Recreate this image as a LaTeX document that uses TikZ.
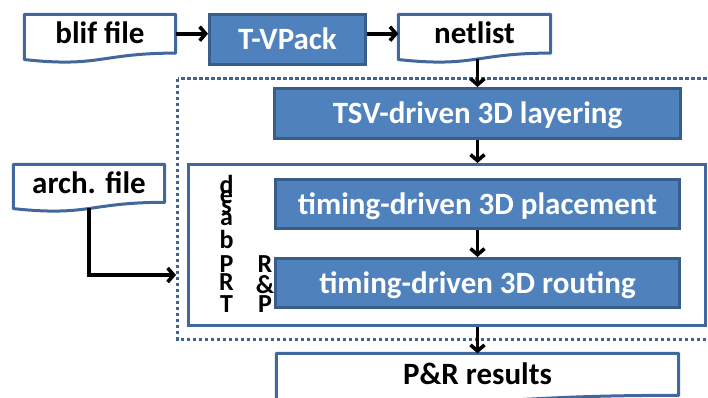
\documentclass[tikz,border=0pt]{standalone}
\usepackage{fontspec}
\setmainfont{Carlito}
\usetikzlibrary{calc,arrows.meta}
\definecolor{boxfill}{HTML}{4F81BD}
\definecolor{boxline}{HTML}{385D8A}
\definecolor{docline}{HTML}{41679C}
\definecolor{dotline}{HTML}{3F6293}
\newcommand\docwave[2]{% node name, full height H
  \draw[docstyle] (#1.south east) -- (#1.north east) -- (#1.north west)
    -- ($(#1.south west)+(0,0.134*#2)$)
    .. controls ($(#1.south)+(0,0.307*#2)$) and (#1.south) .. (#1.south east) -- cycle;}
\begin{document}
\begin{tikzpicture}[x=1pt,y=-1pt,
  bluebox/.style={draw=boxline,fill=boxfill,line width=3pt,inner sep=0pt,rectangle,
    text=white,font=\fontsize{31}{31}\selectfont\bfseries,text height=20pt,text depth=0pt},
  docnode/.style={inner sep=0pt,rectangle,text=black,
    font=\fontsize{31}{31}\selectfont\bfseries,text height=20pt,text depth=0pt},
  docstyle/.style={draw=docline,fill=white,line width=3pt,line join=round},
  whitebox/.style={draw=docline,fill=white,line width=3pt,inner sep=0pt,rectangle},
  vletter/.style={anchor=base,inner sep=0pt,font=\fontsize{26}{26}\selectfont\bfseries},
  flow/.style={draw=black,line width=3.6pt,-{Straight Barb[length=6pt,width=14pt]}},
  dotbox/.style={draw=dotline,line width=3pt,dash pattern=on 3.5pt off 2.5pt}]
\useasboundingbox (0,0) rectangle (708,397);
\clip (0,0) rectangle (708,397);
% dotted frame
\coordinate (dotNW) at (177.5,78.5);
\coordinate (dotSE) at (712,339.5);
\draw[dotbox] (dotNW) rectangle (dotSE);
% white inner frame
\node[whitebox,minimum width=517pt,minimum height=161pt] (inner) at (447,245) {};
% document shapes (outline drawn first, text on top)
\path (100,33.7) node[minimum width=151pt,minimum height=38.4pt,inner sep=0pt] (blif) {};
\path (474.5,33.7) node[minimum width=152pt,minimum height=38.4pt,inner sep=0pt] (netlist) {};
\path (89,183.3) node[minimum width=151pt,minimum height=37.6pt,inner sep=0pt] (arch) {};
\path (477.5,374.3) node[minimum width=402pt,minimum height=41.6pt,inner sep=0pt] (pr) {};
\docwave{blif}{48}
\docwave{netlist}{48}
\docwave{arch}{47}
\docwave{pr}{52}
\node[docnode] (bliftext) at (blif) {blif file};
\node[docnode] (netlisttext) at (netlist) {netlist};
\node[docnode] (archtext) at (arch) {arch. file};
\node[docnode] (prtext) at (pr) {P\&R results};
% blue boxes
\node[bluebox,minimum width=156pt,minimum height=50pt] (tvpack) at (287.5,39.5) {T-VPack};
\node[bluebox,minimum width=406pt,minimum height=50pt] (tsv) at (477.5,113.5) {TSV-driven 3D layering};
\node[bluebox,minimum width=404pt,minimum height=49pt] (place) at (477.5,204) {timing-driven 3D placement};
\node[bluebox,minimum width=404pt,minimum height=49pt] (route) at (477.5,283) {timing-driven 3D routing};
% vertical letters
\foreach \ch/\yy [count=\i] in {d/193,e/203,s/213,a/225,b/248,P/272,R/290,T/312}
  \node[vletter] (va\i) at (226.5,\yy) {\ch};
\foreach \ch/\yy [count=\i] in {R/272,\&/293,P/312}
  \node[vletter] (vb\i) at (265,\yy) {\ch};
% connectors
\coordinate (archin) at (176,275);
\draw[flow] (blif.east) -- (blif.east -| tvpack.west);
\draw[flow] (tvpack.east |- netlist.west) -- (netlist.west);
\draw[flow] ($(netlist.south -| tsv.north)+(0,6)$) -- (tsv.north);
\draw[flow] (tsv.south) -- (tsv.south |- inner.north);
\draw[flow] (place.south) -- (route.north);
\draw[flow] (inner.south -| pr.north) -- (pr.north);
\draw[flow] ($(arch.south)+(0,6)$) |- (archin);
\end{tikzpicture}
\end{document}
